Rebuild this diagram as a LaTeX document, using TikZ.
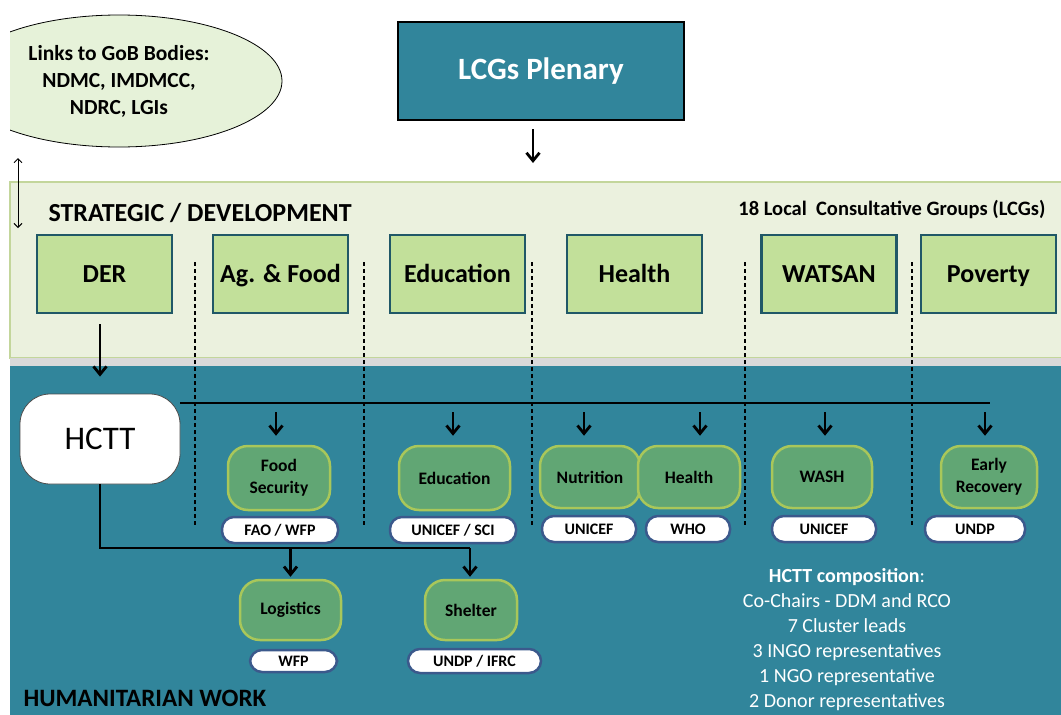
\documentclass[tikz,border=0pt]{standalone}
\usepackage{fontspec}
\setmainfont{Carlito}
\usetikzlibrary{positioning}
\usetikzlibrary{arrows.meta}
\usetikzlibrary{shapes.geometric}

\definecolor{humblue}{RGB}{49,133,155}
\definecolor{bandgreen}{RGB}{235,241,222}
\definecolor{bandline}{RGB}{195,214,155}
\definecolor{lcgfill}{RGB}{194,224,154}
\definecolor{lcgline}{RGB}{32,88,103}
\definecolor{clfill}{RGB}{97,166,116}
\definecolor{clline}{RGB}{169,199,90}
\definecolor{pillline}{RGB}{59,89,140}
\definecolor{gobfill}{RGB}{230,242,217}

\begin{document}
\begin{tikzpicture}[x=1pt,y=-1pt]
	\tikzstyle{plenary} = [draw=black,line width=2.5pt,fill=humblue,text=white,minimum width=286,minimum height=98,inner sep=0,font=\fontsize{31}{37}\selectfont\bfseries]
	\tikzstyle{gob} = [draw=black,line width=0.8pt,fill=gobfill,ellipse,minimum width=326,minimum height=132,inner sep=0,align=center,font=\fontsize{21.5}{27}\selectfont\bfseries]
	\tikzstyle{lcg} = [draw=lcgline,line width=2.5pt,fill=lcgfill,minimum width=135,minimum height=78,inner sep=0,text depth=0.05em,font=\fontsize{26}{30}\selectfont\bfseries]
	\tikzstyle{hctt} = [draw=black!70,line width=0.8pt,fill=white,rounded corners=30,minimum width=160,minimum height=90,inner sep=0,font=\fontsize{33}{40}\selectfont]
	\tikzstyle{cluster} = [draw=clline,line width=2.5pt,fill=clfill,rounded corners=20,minimum height=62,inner sep=0,align=center,font=\fontsize{17.5}{22}\selectfont\bfseries]
	\tikzstyle{pill} = [draw=pillline,line width=2.5pt,fill=white,rounded corners=12,minimum height=26,inner sep=0,font=\fontsize{16}{18}\selectfont\bfseries]
	\tikzstyle{link} = [dashed,dash pattern=on 4pt off 3pt,line width=1.2pt]
	\tikzstyle{line} = [line width=2.8pt]
	\tikzstyle{arr} = [line width=2.8pt,-{Straight Barb[length=8pt,width=13pt]}]

	\useasboundingbox (0,0) rectangle (1061,715);

	% bands
	\fill[white] (0,0) rectangle (1061,715);
	\draw[bandline,fill=bandgreen,line width=1.2pt] (10,182) rectangle (1062,358);
	\fill[black!15] (10,358) rectangle (1061,366);
	\fill[humblue] (10,366) rectangle (1061,715);

	% top
	\node[plenary] at (541,71) (plenary) {LCGs Plenary};
	\begin{scope}
		\clip (10,0) rectangle (400,175);
		\node[gob] at (119,81) (gob) {Links to GoB Bodies:\\NDMC, IMDMCC,\\NDRC, LGIs};
	\end{scope}
	\coordinate (gobtop) at (18,158);
	\coordinate (gobbot) at (18,228);
	\draw[line width=1pt,{Straight Barb[length=4pt,width=8pt]}-{Straight Barb[length=4pt,width=8pt]}] (gobtop) -- (gobbot);
	\coordinate (pl) at (533,163);
	\draw[arr,shorten <=8pt] (plenary.south -| pl) -- (pl);

	\node[anchor=west,font=\fontsize{26}{30}\selectfont\bfseries] at (45,213) (strat) {STRATEGIC / DEVELOPMENT};
	\node[anchor=east,font=\fontsize{20.5}{24}\selectfont\bfseries] at (1049,210) (lcgcount) {18 Local\ \ Consultative Groups (LCGs)};

	% local consultative groups
	\node[lcg] at (104.5,274) (der) {DER};
	\node[lcg] at (280.5,274) (agfood) {Ag. \& Food};
	\node[lcg] at (457.5,274) (edu) {Education};
	\node[lcg] at (634.5,274) (health) {Health};
	\node[lcg] at (829,274) (watsan) {WATSAN};
	\node[lcg] at (988.5,274) (poverty) {Poverty};

	\foreach \x in {195,364,532,745,912}
		\draw[link] (\x,262) -- (\x,525);

	% humanitarian
	\node[hctt] at (100,439) (hctt) {HCTT};
	\draw[arr,shorten <=10pt,shorten >=17pt] (der.south -| hctt.north) -- (hctt.north);

	\node[cluster,minimum width=102,minimum height=64] at (279,478) (foodsec) {Food\\Security};
	\node[cluster,minimum width=111,minimum height=64] at (454.5,478) (educl) {Education};
	\node[cluster,minimum width=100] at (590,477) (nutr) {Nutrition};
	\node[cluster,minimum width=102] at (689,477) (hlthcl) {Health};
	\node[cluster,minimum width=100] at (822,477) (wash) {WASH};
	\node[cluster,minimum width=96] at (989,477) (early) {Early\\Recovery};
	\node[cluster,minimum width=101,minimum height=60] at (290.5,610) (logis) {Logistics};
	\node[cluster,minimum width=92,minimum height=60] at (471,610) (shelter) {Shelter};

	\node[pill,minimum width=116] at (280,530) (fao) {FAO / WFP};
	\node[pill,minimum width=126] at (453,530) (unisci) {UNICEF / SCI};
	\node[pill,minimum width=94] at (589,529) (unicefa) {UNICEF};
	\node[pill,minimum width=84] at (688,529) (who) {WHO};
	\node[pill,minimum width=104] at (824,529) (unicefb) {UNICEF};
	\node[pill,minimum width=100] at (975,529) (undp) {UNDP};
	\node[pill,minimum width=87,minimum height=22] at (293.5,661) (wfp) {WFP};
	\node[pill,minimum width=133,minimum height=24] at (474.5,661) (undpifrc) {UNDP / IFRC};

	\coordinate (bar) at (990,403);
	\draw[line] (hctt.east |- bar) -- (bar);
	\foreach \c/\x in {foodsec/276,educl/453,nutr/584,hlthcl/700,wash/825,early/985}{
		\coordinate (a\c) at (\x,412);
		\draw[arr,shorten >=9pt] (a\c) -- (a\c |- \c.north);
	}

	\coordinate (elbow) at (470,548);
	\draw[line] (hctt.south) |- (elbow);
	\draw[arr,shorten >=2pt] (elbow) -- (elbow |- shelter.north);
	\draw[arr,shorten >=2pt] (logis.north |- elbow) -- (logis.north);

	\node[anchor=west,font=\fontsize{25}{30}\selectfont\bfseries] at (20,698) (humwork) {HUMANITARIAN WORK};
	\node[anchor=north,align=center,text=white,inner sep=0,font=\fontsize{20}{25}\selectfont] at (847,568) (comp) {\textbf{HCTT composition}:\\Co-Chairs - DDM and RCO\\7 Cluster leads\\3 INGO representatives\\1 NGO representative\\2 Donor representatives};
\end{tikzpicture}
\end{document}
